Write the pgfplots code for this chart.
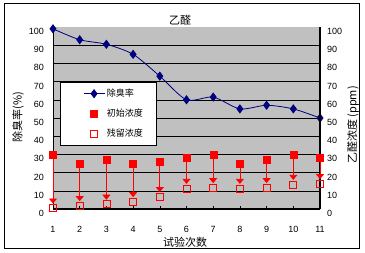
\documentclass[border=0pt]{standalone}
\usepackage{pgfplots}
\pgfplotsset{compat=1.18}
\usepackage{pgfplotstable}
\usepackage{fontspec}
\setmainfont{Liberation Sans}
\newfontfamily\cjk{Noto Sans CJK SC}
\usetikzlibrary{arrows.meta}
\definecolor{plotgray}{RGB}{192,192,192}
\definecolor{navyblue}{RGB}{0,0,128}

\pgfplotstableread{
x r
1 99
2 93
3 90.5
4 85
5 73
6 60
7 61.5
8 55
9 57
10 55
11 50
}\rate

\pgfplotstableread{
x i s d
1 29.6 0.5 -26.6
2 24.7 1.8 -20.4
3 27.1 2.6 -22.0
4 24.7 4.0 -18.2
5 26.0 6.8 -16.7
6 28.2 11.3 -14.4
7 29.6 11.7 -15.4
8 24.7 11.3 -10.9
9 27.1 11.7 -12.9
10 29.6 13.5 -13.6
11 28.2 13.9 -11.8
}\conc

\begin{document}
\begin{tikzpicture}
\pgfplotsset{
  base/.style={
    scale only axis, width=267bp, height=182bp,
    xmin=1, xmax=11, ymin=0, ymax=100,
    /pgf/number format/assume math mode=true,
    tick label style={font=\fontsize{9bp}{10bp}\selectfont},
  }
}
\begin{axis}[base,
  axis x line*=bottom, axis y line*=left,
  axis background/.style={fill=plotgray},
  xtick={1,...,11}, ytick={0,10,...,100},
  x axis line style={line width=1.5bp},
  y axis line style={line width=0.6bp},
  xtick style={draw=black, line width=0.6bp},
  tick align=inside, major tick length=3bp,
  ytick style={draw=none},
  xticklabel style={anchor=north, inner sep=0pt, yshift=-17bp},
  yticklabel style={anchor=east, inner sep=0pt, xshift=-9bp, yshift=-4.5bp},
  legend style={at={(0.026,0.698)}, anchor=north west, draw=black, fill=white,
    font=\cjk\fontsize{9bp}{10bp}\selectfont, row sep=7bp, inner xsep=11bp, inner ysep=5bp},
  legend cell align=left,
]
\pgfplotsinvokeforeach{10,20,...,90}{\draw[black, line width=0.6bp] (axis cs:1,#1) -- (axis cs:11,#1);}
\addplot[navyblue, line width=0.8bp, smooth, tension=0.45, mark=diamond*, mark size=4bp,
  mark options={fill=navyblue, draw=navyblue},
  legend image code/.code={\path (-12bp,0bp) (21bp,0bp);
    \draw[mark repeat=2,mark phase=2] plot coordinates {(0bp,0bp) (10.5bp,0bp) (21bp,0bp)};}
  ] table[x=x,y=r]{\rate};
\addlegendentry{除臭率}
\addlegendimage{only marks, mark=square*, mark size=3.5bp, red,
  legend image code/.code={\path (-12bp,0bp) (21bp,0bp);
    \draw plot coordinates {(10.5bp,0bp)};}}
\addlegendentry{初始浓度}
\addlegendimage{only marks, mark=square, mark size=3.5bp, red, mark options={line width=0.8bp},
  legend image code/.code={\path (-12bp,0bp) (21bp,0bp);
    \draw plot coordinates {(10.5bp,0bp)};}}
\addlegendentry{残留浓度}
\end{axis}

\begin{axis}[base,
  axis x line=none, axis y line*=right,
  y axis line style={line width=1.5bp},
  ytick={0,10,...,100}, ytick style={draw=none},
  yticklabel style={anchor=west, inner sep=0pt, xshift=7bp, yshift=-4.5bp},
  clip=false,
]
\addplot[red, line width=0.8bp, -{Triangle[width=8bp,length=5bp]},
  quiver={u=0, v=\thisrow{d}}] table[x=x,y=i]{\conc};
\addplot[red, only marks, mark=square*, mark size=3.5bp] table[x=x,y=i]{\conc};
\addplot[red, only marks, mark=square, mark size=3.5bp, mark options={line width=0.8bp}] table[x=x,y=s]{\conc};
\end{axis}

\node[font=\cjk\fontsize{11bp}{12bp}\selectfont] at (127bp,189bp) {乙醛};
\node[font=\cjk\fontsize{11bp}{12bp}\selectfont] at (132bp,-33bp) {试验次数};
\node[font=\cjk\fontsize{11bp}{12bp}\selectfont, rotate=90] at (-35bp,92bp) {除臭率(\%)};
\node[font=\cjk\fontsize{11bp}{12bp}\selectfont, rotate=90] at (300bp,84bp) {乙醛浓度 (ppm)};
\draw[black, line width=1bp] (-48bp,-39bp) rectangle (306bp,205bp);
\pgfresetboundingbox
\path (-53bp,-44bp) rectangle (312bp,209bp);
\end{tikzpicture}
\end{document}
